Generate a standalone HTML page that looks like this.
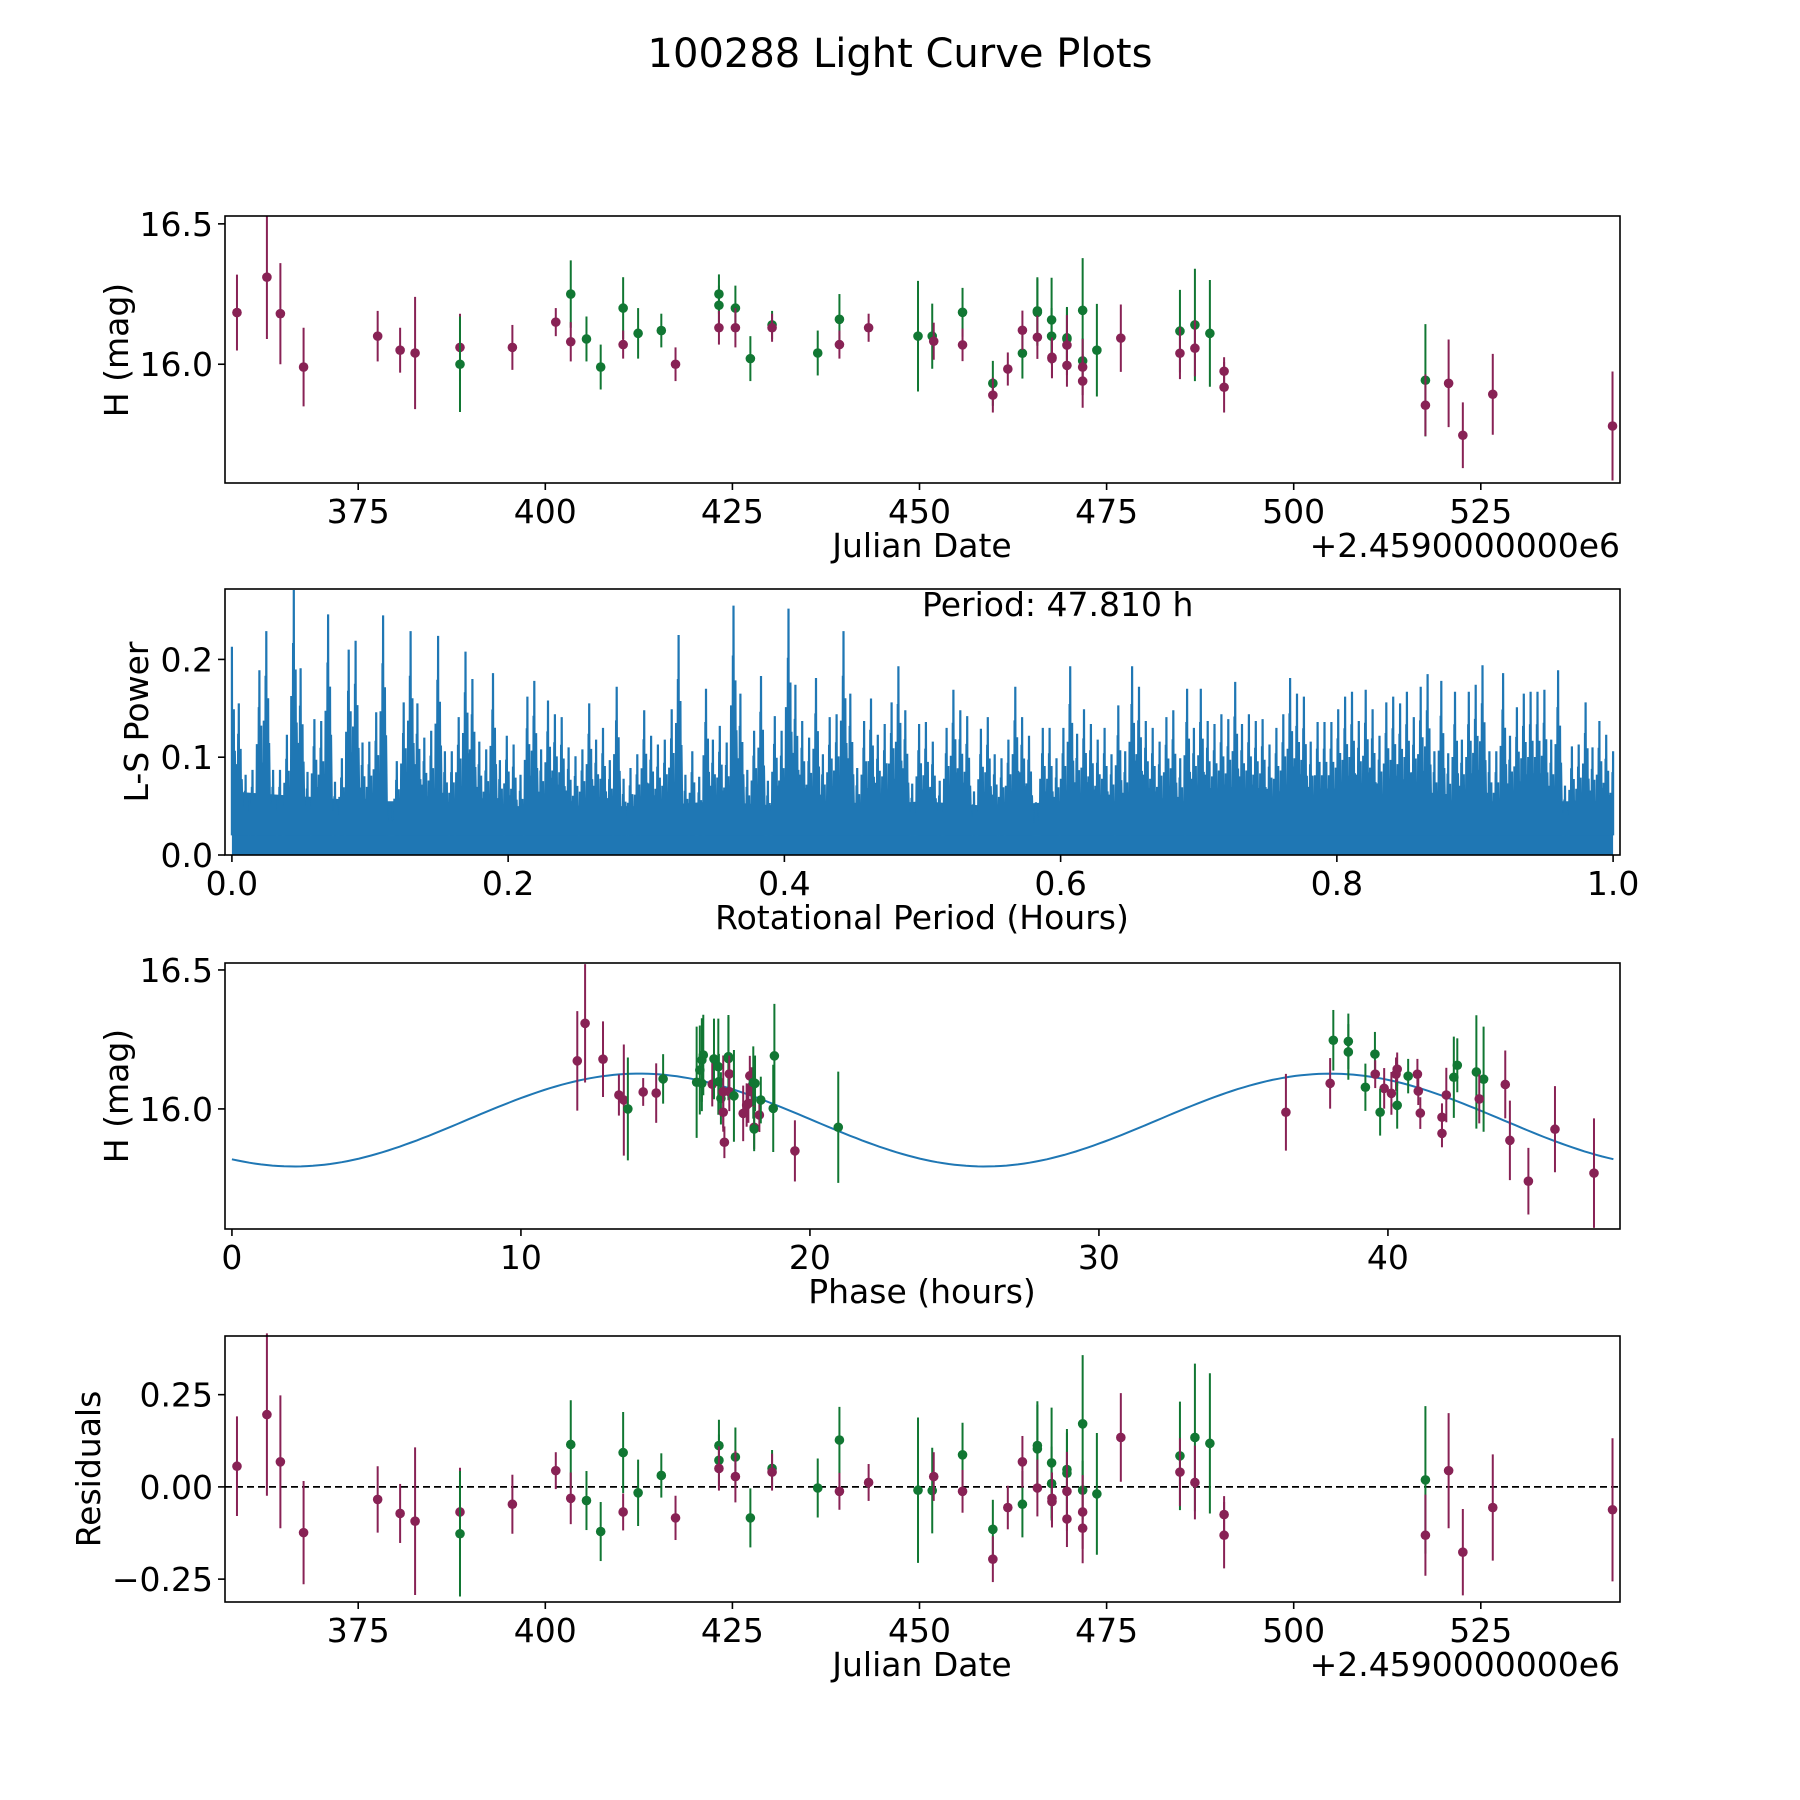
<!DOCTYPE html>
<html><head><meta charset="utf-8"><title>100288 Light Curve Plots</title>
<style>
html,body{margin:0;padding:0;background:#fff;}
svg{display:block;font-family:"DejaVu Sans","Liberation Sans",sans-serif;}
</style></head>
<body>
<svg id="fig" width="1800" height="1800" viewBox="0 0 1800 1800" xmlns="http://www.w3.org/2000/svg">
<rect x="0" y="0" width="1800" height="1800" fill="#fff"/>
<text x="900" y="67" font-size="40" text-anchor="middle">100288 Light Curve Plots</text>
<g id="p1"></g>
<g id="p2"></g>
<g id="p3"></g>
<g id="p4"></g>
</svg>
<script>
// ---- Light curve data (JD - 2459000) ----
const days = [358.8,362.8,364.6,367.7,377.6,380.6,382.6,388.6,388.6,395.6,401.4,403.4,403.4,405.5,407.4,410.4,410.4,412.4,415.5,417.4,423.2,423.2,423.2,425.4,425.4,427.4,430.3,430.3,436.4,439.3,439.3,443.2,449.8,451.7,451.9,455.75,455.75,459.8,459.8,461.8,463.75,463.75,465.75,465.75,465.75,467.65,467.65,467.7,467.7,469.7,469.7,469.7,469.7,471.8,471.8,471.8,471.8,473.7,476.9,484.8,484.8,486.8,486.8,488.8,490.7,490.7,517.6,517.6,520.7,522.6,526.6,542.6];
const mags = [16.184,16.31,16.18,15.99,16.10,16.05,16.04,16.06,16.00,16.06,16.15,16.25,16.08,16.09,15.99,16.20,16.07,16.11,16.12,16.00,16.25,16.21,16.13,16.20,16.13,16.02,16.14,16.13,16.04,16.16,16.07,16.13,16.10,16.10,16.082,16.185,16.069,15.932,15.89,15.983,16.039,16.121,16.19,16.185,16.096,16.158,16.10,16.025,16.02,16.094,16.09,16.068,15.996,16.192,16.012,15.99,15.94,16.05,16.093,16.118,16.039,16.14,16.057,16.11,15.975,15.918,15.943,15.854,15.932,15.747,15.893,15.78];
const errs = [0.135,0.22,0.18,0.14,0.09,0.08,0.2,0.12,0.17,0.08,0.05,0.12,0.07,0.08,0.08,0.11,0.05,0.09,0.06,0.06,0.07,0.07,0.06,0.08,0.07,0.08,0.05,0.05,0.08,0.09,0.05,0.05,0.197,0.116,0.066,0.087,0.058,0.08,0.062,0.059,0.09,0.07,0.12,0.12,0.077,0.15,0.1,0.07,0.07,0.11,0.11,0.107,0.076,0.186,0.08,0.1,0.095,0.165,0.12,0.147,0.092,0.2,0.1,0.19,0.05,0.09,0.2,0.11,0.156,0.117,0.144,0.194];
const bands = ["m","m","m","m","m","m","m","m","g","m","m","g","m","g","g","g","m","g","g","m","g","g","m","g","m","g","g","m","g","g","m","m","g","g","m","g","m","g","m","m","g","m","g","g","m","g","g","m","m","g","g","m","m","g","g","m","m","g","m","g","m","g","m","g","m","m","g","m","m","m","m","m"];
const residuals = [0.056,0.196,0.068,-0.124,-0.034,-0.072,-0.093,-0.068,-0.127,-0.047,0.044,0.115,-0.031,-0.037,-0.121,0.093,-0.068,-0.016,0.031,-0.084,0.112,0.072,0.05,0.081,0.028,-0.084,0.05,0.04,-0.003,0.127,-0.012,0.012,-0.009,-0.01,0.028,0.087,-0.012,-0.115,-0.196,-0.056,-0.047,0.068,0.112,0.103,-0.003,0.065,0.009,-0.031,-0.04,0.047,0.037,-0.012,-0.087,0.171,-0.009,-0.068,-0.112,-0.019,0.134,0.084,0.04,0.134,0.012,0.118,-0.075,-0.131,0.019,-0.131,0.044,-0.177,-0.056,-0.062];

// ---- Phase-folded data ----
const phases = [11.95,12.22,12.84,13.39,13.56,13.70,14.23,14.68,14.92,16.08,16.19,16.26,16.31,16.26,16.62,16.68,16.83,16.85,16.92,17.0,17.0,17.04,17.18,17.18,17.21,17.21,17.37,17.69,17.81,17.87,17.92,17.98,18.04,18.10,18.07,18.07,18.25,18.30,18.73,18.77,19.48,20.98,
36.47,38.0,38.11,38.63,38.63,39.22,39.55,39.56,39.87,39.73,40.12,40.28,40.32,40.32,40.70,41.02,41.05,41.12,41.87,41.87,42.02,42.28,42.40,43.06,43.31,43.16,44.06,44.22,44.86,45.78,47.13];
const phaseMags = [16.173,16.308,16.179,16.05,16.032,16.0,16.061,16.057,16.108,16.096,16.14,16.176,16.194,16.092,16.089,16.18,16.152,16.098,16.038,16.062,15.988,15.88,16.188,16.181,16.126,16.062,16.047,15.984,16.014,16.02,16.119,16.08,16.095,16.092,15.934,15.928,15.978,16.032,16.002,16.191,15.849,15.934,
15.988,16.092,16.247,16.243,16.205,16.078,16.197,16.125,16.074,15.988,16.056,16.125,16.143,16.013,16.118,16.125,16.064,15.985,15.97,15.912,16.05,16.114,16.157,16.133,16.107,16.036,16.088,15.887,15.74,15.927,15.769];
const phaseErrs = [0.179,0.213,0.136,0.074,0.2,0.185,0.05,0.107,0.089,0.2,0.16,0.15,0.145,0.1,0.08,0.145,0.173,0.1,0.094,0.13,0.07,0.057,0.15,0.15,0.066,0.07,0.165,0.1,0.078,0.07,0.072,0.07,0.13,0.1,0.078,0.08,0.061,0.084,0.157,0.187,0.11,0.2,
0.138,0.091,0.109,0.1,0.1,0.085,0.08,0.05,0.073,0.084,0.077,0.06,0.06,0.084,0.062,0.055,0.05,0.057,0.05,0.05,0.098,0.146,0.097,0.204,0.189,0.088,0.122,0.143,0.12,0.155,0.197];
const phaseBands = ["m","m","m","m","m","g","m","m","g","g","g","g","g","g","m","g","g","g","g","m","m","m","g","g","m","m","g","m","m","m","m","m","g","g","m","g","m","g","g","g","m","g",
"m","m","g","g","g","g","g","m","m","g","m","m","m","g","g","m","m","m","m","m","m","g","g","g","g","m","m","m","m","m","m"];
// fit parameters
const fitMean = 15.96, fitAmp = 0.167, fitHalfPeriod = 23.905, fitPeakPhase = 14.1, foldPeriod = 47.81;

// ---- Periodogram peaks (per 0.005 h bin, 0 -> 1 h) ----
const lsPeaks = [0.213,0.155,0.082,0.087,0.189,0.229,0.087,0.087,0.123,0.271,0.191,0.085,0.139,0.137,0.246,0.075,0.099,0.210,0.219,0.115,0.116,0.146,0.245,0.051,0.096,0.156,0.229,0.155,0.120,0.127,0.224,0.106,0.106,0.141,0.208,0.180,0.116,0.108,0.186,0.097,0.122,0.113,0.082,0.162,0.178,0.108,0.158,0.144,0.141,0.110,0.101,0.108,0.155,0.118,0.130,0.097,0.172,0.078,0.089,0.103,0.148,0.122,0.113,0.118,0.149,0.225,0.082,0.106,0.080,0.170,0.118,0.132,0.115,0.255,0.165,0.087,0.127,0.183,0.076,0.142,0.127,0.252,0.174,0.137,0.120,0.181,0.103,0.141,0.144,0.229,0.165,0.089,0.137,0.160,0.123,0.134,0.156,0.193,0.148,0.073,
0.134,0.136,0.116,0.076,0.130,0.169,0.148,0.142,0.065,0.129,0.141,0.103,0.099,0.118,0.172,0.141,0.122,0.054,0.130,0.130,0.099,0.130,0.193,0.124,0.149,0.134,0.118,0.130,0.103,0.153,0.106,0.193,0.172,0.137,0.130,0.116,0.141,0.148,0.099,0.170,0.130,0.170,0.137,0.134,0.144,0.139,0.177,0.134,0.144,0.137,0.139,0.113,0.130,0.144,0.181,0.165,0.162,0.116,0.136,0.136,0.136,0.149,0.162,0.167,0.137,0.169,0.149,0.122,0.156,0.162,0.155,0.167,0.141,0.172,0.185,0.106,0.178,0.104,0.167,0.118,0.167,0.174,0.194,0.106,0.106,0.186,0.122,0.151,0.165,0.167,0.167,0.169,0.118,0.189,0.071,0.111,0.113,0.156,0.110,0.137,0.123,0.106];
const lsBand = [0.065,0.06,0.055,0.055,0.05,0.05,0.05,0.055,0.05,0.05,0.055,0.05,0.055,0.055,0.055,0.055,0.055,0.055,0.055,0.055,0.055];

const xTicksJD = [375,400,425,450,475,500,525];
const yTicksMag = [16.0,16.5];
const xTicksLS = [0.0,0.2,0.4,0.6,0.8,1.0];
const yTicksLS = [0.0,0.1,0.2];
const xTicksPhase = [0,10,20,30,40];
const yTicksRes = [-0.25,0.0,0.25];

const NS = "http://www.w3.org/2000/svg";
const COL = {m:"#882255", g:"#117733"};
const FS = 33;
function mk(tag, attrs, parent){const e=document.createElementNS(NS,tag);for(const k in attrs)e.setAttribute(k,attrs[k]);parent.appendChild(e);return e;}
function lin(d0,d1,r0,r1){return v=>r0+(v-d0)*(r1-r0)/(d1-d0);}

const L=225,R=1620;
function frame(g,top,bot){
  const r=mk("rect",{x:L,y:top,width:R-L,height:bot-top,fill:"none",stroke:"#000","stroke-width":1.6},g);
  
  
}
function xticks(g,ticks,sx,bot,fmt,name){
  ticks.forEach(t=>{
    const x=sx(t);
    const l=mk("line",{x1:x,y1:bot,x2:x,y2:bot+7,stroke:"#000","stroke-width":1.6},g);
    
    
    const tx=mk("text",{x:x,y:bot+40,"font-size":FS,"text-anchor":"middle"},g);
    tx.textContent=fmt(t);
    
    
  });
}
function yticks(g,ticks,sy,fmt,name){
  ticks.forEach(t=>{
    const y=sy(t);
    const l=mk("line",{x1:L-7,y1:y,x2:L,y2:y,stroke:"#000","stroke-width":1.6},g);
    
    
    const tx=mk("text",{x:L-12,y:y+12,"font-size":FS,"text-anchor":"end"},g);
    tx.textContent=fmt(t);
    
    
  });
}
function label(g,txt,x,y,rot,name,anchor){
  const t=mk("text",{x:x,y:y,"font-size":FS,"text-anchor":anchor||"middle"},g);
  if(rot)t.setAttribute("transform","rotate(-90 "+x+" "+y+")");
  t.textContent=txt;
  
  
}
function errpts(g,xs,ys,es,cs,sx,sy,name){
  for(let i=0;i<xs.length;i++){
    const x=sx(xs[i]);
    const l=mk("line",{x1:x,y1:sy(ys[i]+es[i]),x2:x,y2:sy(ys[i]-es[i]),stroke:COL[cs[i]],"stroke-width":2},g);
    
    
    const c=mk("circle",{cx:x,cy:sy(ys[i]),r:4.8,fill:COL[cs[i]]},g);
    
    
  }
}
const fmt1=v=>v.toFixed(1), fmt2=v=>(v<0?"\u2212":"")+Math.abs(v).toFixed(2), fmt0=v=>String(v);

// Panel 1
(function(){
  const g=document.getElementById("p1"), top=216, bot=483;
  const sx=lin(357.2,543.6,L,R), sy=lin(15.577,16.528,bot,top);
  errpts(g,days,mags,errs,bands,sx,sy,'observation');
  frame(g,top,bot);
  xticks(g,xTicksJD,sx,bot,fmt0,'x-axis');
  yticks(g,yTicksMag,sy,fmt1,'y-axis');
  label(g,"Julian Date",922,557,false,'x-axis-title');
  label(g,"+2.4590000000e6",R,557,false,'x-axis-offset','end');
  label(g,"H (mag)",128,350,true,'y-axis-title');
})();

// Panel 2
(function(){
  const g=document.getElementById("p2"), top=589, bot=855;
  const sx=lin(-0.005,1.005,L,R), sy=lin(0,0.272,bot,top);
  const n=lsPeaks.length, w=1/(n-1);
  let d="M"+sx(0)+","+sy(0);
  lsBand.forEach((v,i)=>{const x=i/(lsBand.length-1);d+=" L"+sx(x)+","+sy(v);});
  d+=" L"+sx(1)+","+sy(0)+" Z";
  const band=mk("path",{d:d,fill:"#1f77b4"},g);
  
  
  let p="";
  for(let i=0;i<n;i++){
    const f=i*w, pk=lsPeaks[i];
    const pts=[[f-0.42*w,0.02],[f-0.36*w,pk*0.6],[f-0.3*w,0.02],[f-0.22*w,pk*0.45],[f-0.15*w,0.02],[f-0.09*w,pk*0.8],[f-0.04*w,0.02],[f,pk],[f+0.05*w,0.02],[f+0.12*w,pk*0.55],[f+0.2*w,0.02],[f+0.27*w,pk*0.7],[f+0.34*w,0.02],[f+0.42*w,pk*0.5]];
    pts.forEach((q,j)=>{const fx=Math.min(1,Math.max(0,q[0]));p+=((i===0&&j===0)?"M":" L")+sx(fx).toFixed(1)+","+sy(q[1]).toFixed(1);});
  }
  const line=mk("path",{d:p,fill:"none",stroke:"#1f77b4","stroke-width":2.2,"stroke-linejoin":"miter"},g);
  
  
  frame(g,top,bot);
  xticks(g,xTicksLS,sx,bot,fmt1,'x-axis');
  yticks(g,yTicksLS,sy,fmt1,'y-axis');
  label(g,"Rotational Period (Hours)",922,929,false,'x-axis-title');
  label(g,"L-S Power",148,722,true,'y-axis-title');
  label(g,"Period: 47.810 h",922,616,false,'period-annotation','start');
})();

// Panel 3
(function(){
  const g=document.getElementById("p3"), top=963, bot=1229;
  const sx=lin(-0.24,48.03,L,R), sy=lin(15.568,16.525,bot,top);
  let d="";
  for(let ph=0;ph<=foldPeriod+1e-9;ph+=0.2){
    const m=fitMean+fitAmp*Math.cos(2*Math.PI*(ph-fitPeakPhase)/fitHalfPeriod);
    d+=(d?" L":"M")+sx(ph).toFixed(1)+","+sy(m).toFixed(1);
  }
  const c=mk("path",{d:d,fill:"none",stroke:"#1f77b4","stroke-width":2},g);
  
  
  errpts(g,phases,phaseMags,phaseErrs,phaseBands,sx,sy,'folded-observation');
  frame(g,top,bot);
  xticks(g,xTicksPhase,sx,bot,fmt0,'x-axis');
  yticks(g,yTicksMag,sy,fmt1,'y-axis');
  label(g,"Phase (hours)",922,1303,false,'x-axis-title');
  label(g,"H (mag)",128,1096,true,'y-axis-title');
})();

// Panel 4
(function(){
  const g=document.getElementById("p4"), top=1336, bot=1602;
  const sx=lin(357.2,543.6,L,R), sy=lin(-0.312,0.409,bot,top);
  const z=mk("line",{x1:L,y1:sy(0),x2:R,y2:sy(0),stroke:"#000","stroke-width":1.8,"stroke-dasharray":"7,4"},g);
  
  
  errpts(g,days,residuals,errs,bands,sx,sy,'residual');
  frame(g,top,bot);
  xticks(g,xTicksJD,sx,bot,fmt0,'x-axis');
  yticks(g,yTicksRes,sy,fmt2,'y-axis');
  label(g,"Julian Date",922,1676,false,'x-axis-title');
  label(g,"+2.4590000000e6",R,1676,false,'x-axis-offset','end');
  label(g,"Residuals",100,1469,true,'y-axis-title');
})();
</script>
</body></html>
